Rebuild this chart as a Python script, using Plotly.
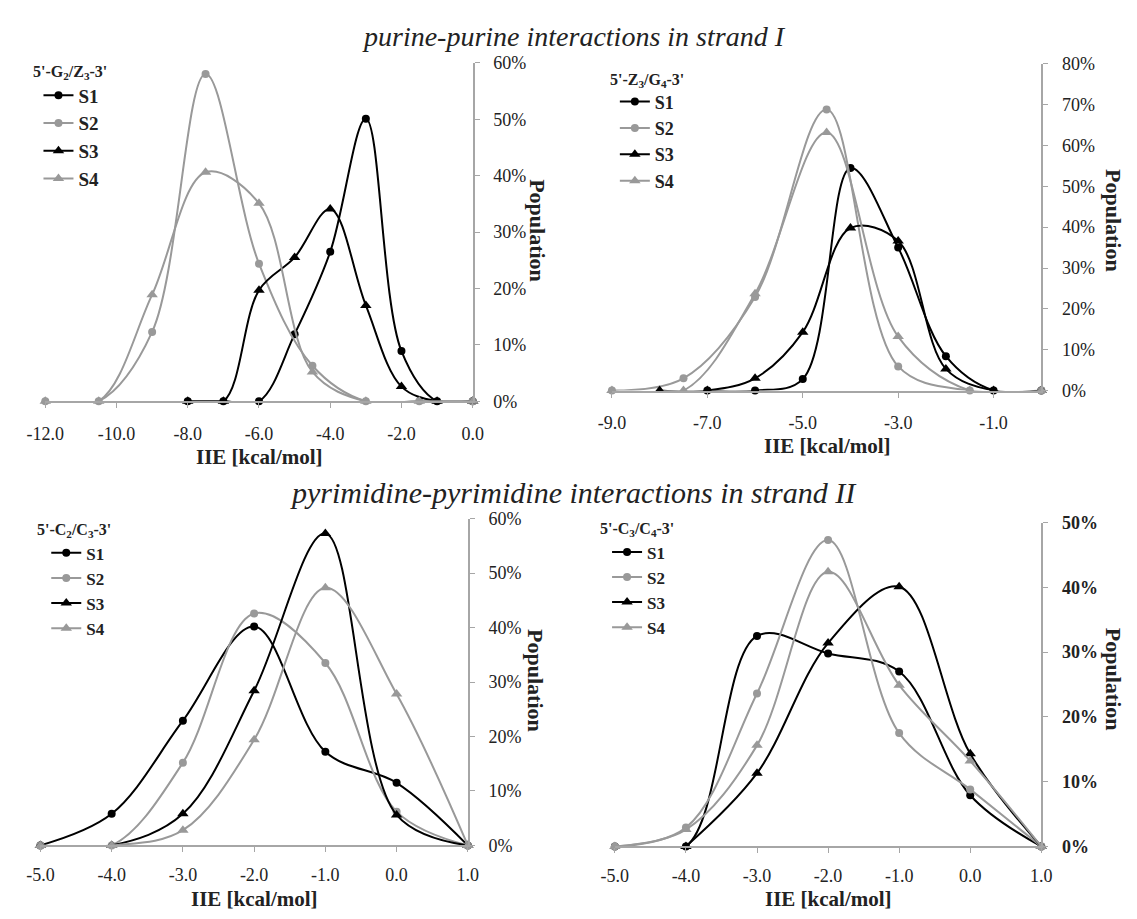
import plotly.graph_objects as go

W, H = 1137, 919
FONT = "Liberation Serif, Times New Roman, serif"
BLACK = "#000000"
GRAY = "#999999"
AXIS = "#a6a6a6"
TXT = "#222222"

# ---------------- data (population in %) ----------------
# Panel A: 5'-G2/Z3-3'
a_x13 = [-8, -7, -6, -5, -4, -3, -2, -1, 0]
a_x24 = [-12, -10.5, -9, -7.5, -6, -4.5, -3, -1.5, 0]
a_s1 = [0, 0, 0, 11.9, 26.5, 50.1, 8.9, 0, 0]
a_s2 = [0, 0, 12.3, 58.0, 24.4, 6.3, 0, 0, 0]
a_s3 = [0, 0, 19.7, 25.5, 34.1, 17.0, 2.6, 0, 0]
a_s4 = [0, 0, 18.9, 40.6, 35.1, 5.2, 0, 0, 0]
a_ticks = [-12, -10, -8, -6, -4, -2, 0]

# Panel B: 5'-Z3/G4-3'
b_x1 = [-7, -6, -5, -4, -3, -2, -1, 0]
b_x3 = [-8, -7, -6, -5, -4, -3, -2, -1, 0]
b_x24 = [-9, -7.5, -6, -4.5, -3, -1.5, 0]
b_s1 = [0, 0, 2.8, 54.5, 35.0, 8.4, 0, 0]
b_s2 = [0, 3.0, 22.9, 68.8, 5.9, 0, 0]
b_s3 = [0, 0, 3.0, 14.3, 39.8, 36.6, 5.3, 0, 0]
b_s4 = [0, 0, 23.7, 63.2, 13.2, 0, 0]
b_ticks = [-9, -7, -5, -3, -1]

# Panel C: 5'-C2/C3-3'
c_x = [-5, -4, -3, -2, -1, 0, 1]
c_s1 = [0, 5.8, 22.9, 40.2, 17.2, 11.5, 0]
c_s2 = [0, 0, 15.2, 42.6, 33.5, 6.2, 0]
c_s3 = [0, 0, 5.8, 28.4, 57.3, 5.6, 0]
c_s4 = [0, 0, 2.8, 19.4, 47.3, 27.8, 0]
c_ticks = [-5, -4, -3, -2, -1, 0, 1]

# Panel D: 5'-C3/C4-3'
d_x = [-5, -4, -3, -2, -1, 0, 1]
d_x3 = [-4, -3, -2, -1, 0, 1]
d_s1 = [0, 0, 32.5, 29.8, 27.0, 7.9, 0]
d_s2 = [0, 2.9, 23.6, 47.3, 17.5, 8.8, 0]
d_s3 = [0, 11.3, 31.4, 40.1, 14.3, 0]
d_s4 = [0, 2.6, 15.6, 42.4, 24.9, 13.2, 0]
d_ticks = [-5, -4, -3, -2, -1, 0, 1]

series_names = ["S1", "S2", "S3", "S4"]
headers = ["5'-G<sub>2</sub>/Z<sub>3</sub>-3'", "5'-Z<sub>3</sub>/G<sub>4</sub>-3'",
           "5'-C<sub>2</sub>/C<sub>3</sub>-3'", "5'-C<sub>3</sub>/C<sub>4</sub>-3'"]
title_top = "purine-purine interactions in strand I"
title_bottom = "pyrimidine-pyrimidine interactions in strand II"


def fx(p):
    return p / W


def fy(p):
    return 1 - p / H


panels = [
    dict(data=[(a_x13, a_s1), (a_x24, a_s2), (a_x13, a_s3), (a_x24, a_s4)], ticks=a_ticks,
         xd=(27, 466), yd=(400, 54), xr=[-12, 0], yr=[0, 60], xso=10,
         ybold=False, leg=(20, 68), lfs=19, head=(12, 64), pop=(533, 226), xt=(247, 457)),
    dict(data=[(b_x1, b_s1), (b_x24, b_s2), (b_x3, b_s3), (b_x24, b_s4)], ticks=b_ticks,
         xd=(609, 1050), yd=(389, 55), xr=[-9, 0], yr=[0, 80], xso=10,
         ybold=False, leg=(612, 75), lfs=18, head=(605, 72), pop=(1124, 215), xt=(830, 446)),
    dict(data=[(c_x, c_s1), (c_x, c_s2), (c_x, c_s3), (c_x, c_s4)], ticks=c_ticks,
         xd=(22, 461), yd=(854, 520), xr=[-5, 1], yr=[0, 60], xso=7,
         ybold=False, leg=(28, 537), lfs=17, head=(16, 532), pop=(531, 686), xt=(242, 909)),
    dict(data=[(d_x, d_s1), (d_x, d_s2), (d_x3, d_s3), (d_x, d_s4)], ticks=d_ticks,
         xd=(612, 1050), yd=(855, 524), xr=[-5, 1], yr=[0, 50], xso=7,
         ybold=True, leg=(604, 536), lfs=17, head=(595, 531), pop=(1125, 684), xt=(831, 909)),
]

styles = [(BLACK, "circle", 8), (GRAY, "circle", 8), (BLACK, "triangle-up", 10), (GRAY, "triangle-up", 10)]

fig = go.Figure()
layout = dict(width=W, height=H, margin=dict(l=0, r=0, t=0, b=0),
              paper_bgcolor="white", plot_bgcolor="white",
              font=dict(family=FONT, color=TXT), showlegend=True)
annotations = []

for i, p in enumerate(panels, start=1):
    sfx = "" if i == 1 else str(i)
    leg = "legend" if i == 1 else f"legend{i}"
    for (xs, ys), name, (col, sym, sz) in zip(p["data"], series_names, styles):
        fig.add_trace(go.Scatter(
            x=xs, y=ys, name=f"<b>{name}</b>", mode="lines+markers",
            line=dict(color=col, width=2, shape="spline", smoothing=1),
            marker=dict(color=col, symbol=sym, size=sz),
            xaxis=f"x{sfx}", yaxis=f"y{sfx}", legend=leg, cliponaxis=False,
        ))
    layout[f"xaxis{sfx}"] = dict(
        domain=[fx(p["xd"][0]), fx(p["xd"][1])], range=p["xr"], anchor=f"y{sfx}",
        showline=True, linecolor=AXIS, linewidth=2, ticks="outside", ticklen=5,
        tickcolor=AXIS, tickwidth=1, tickmode="array", tickvals=p["ticks"],
        ticktext=[f"{v:.1f}" for v in p["ticks"]],
        showgrid=False, zeroline=False, ticklabelstandoff=p["xso"],
        tickfont=dict(family=FONT, size=18, color=TXT),
    )
    layout[f"yaxis{sfx}"] = dict(
        domain=[fy(p["yd"][0]), fy(p["yd"][1])], range=p["yr"], anchor=f"x{sfx}",
        side="right", showline=True, linecolor=AXIS, linewidth=2, ticks="outside",
        ticklen=5, tickcolor=AXIS, tickwidth=1, tickmode="linear", tick0=0, dtick=10,
        ticksuffix="%", showgrid=False, zeroline=False, ticklabelstandoff=10,
        tickprefix="<b>" if p["ybold"] else "",
        tickfont=dict(family=FONT, size=18, color=TXT),
    )
    layout[leg] = dict(
        x=fx(p["leg"][0]), y=fy(p["leg"][1]), xanchor="left", yanchor="top",
        bgcolor="rgba(0,0,0,0)", borderwidth=0, itemwidth=30,
        font=dict(family=FONT, size=p["lfs"], color=TXT),
    )
    annotations.append(dict(
        text=f"<b>{headers[i-1]}</b>", x=fx(p["head"][0]), y=fy(p["head"][1]),
        xref="paper", yref="paper", xanchor="left", yanchor="middle", showarrow=False,
        font=dict(family=FONT, size=16, color=TXT)))
    annotations.append(dict(
        text="<b>Population</b>", x=fx(p["pop"][0]), y=fy(p["pop"][1]),
        xref="paper", yref="paper", xanchor="center", yanchor="middle", showarrow=False,
        textangle=90, font=dict(family=FONT, size=22, color=TXT)))
    annotations.append(dict(
        text="<b>IIE [kcal/mol]</b>", x=fx(p["xt"][0]), y=fy(p["xt"][1]),
        xref="paper", yref="paper", xanchor="center", yanchor="middle", showarrow=False,
        font=dict(family=FONT, size=21, color=TXT)))

annotations.append(dict(
    text=f"<i>{title_top}</i>", x=fx(570), y=fy(27), xref="paper", yref="paper",
    xanchor="center", yanchor="middle", showarrow=False,
    font=dict(family=FONT, size=28, color=TXT)))
annotations.append(dict(
    text=f"<i>{title_bottom}</i>", x=fx(570), y=fy(493), xref="paper", yref="paper",
    xanchor="center", yanchor="middle", showarrow=False,
    font=dict(family=FONT, size=30, color=TXT)))

layout["annotations"] = annotations
fig.update_layout(**layout)
fig.write_html("out.html")
